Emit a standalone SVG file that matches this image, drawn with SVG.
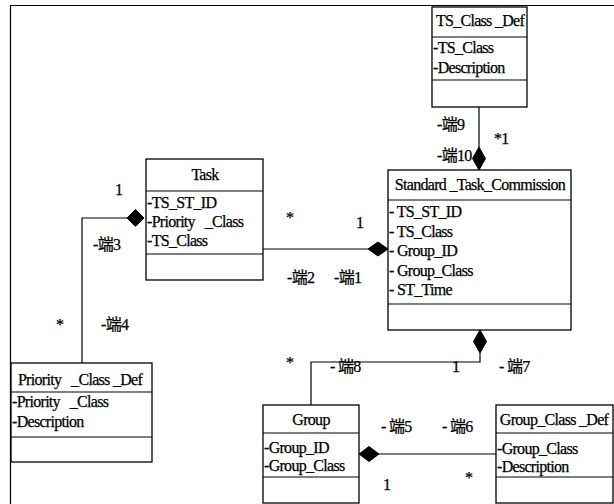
<svg xmlns="http://www.w3.org/2000/svg" width="614" height="504" viewBox="0 0 614 504" font-family="Liberation Serif, Times New Roman, DejaVu Serif, Noto Sans CJK SC, serif">
<style>
text{font-size:16px;fill:#000;letter-spacing:-0.7px;stroke:#000;stroke-width:0.25}
.h{text-anchor:middle}
.box{fill:#fff;stroke:#000;stroke-width:1.3}
.ln{stroke:#000;stroke-width:1.2;fill:none}
.dm{fill:#000;stroke:#000;stroke-width:1}
</style>
<rect width="614" height="504" fill="#fff"/>
<path class="ln" d="M10.5 504 V5.5 H614"/>

<g id="connectors">
<path class="ln" d="M479 107 V147"/>
<polygon class="dm" points="479,147 485.5,158.5 479,170 472.5,158.5"/>
<path class="ln" d="M263 249 H368"/>
<polygon class="dm" points="368,249 378,242 388,249 378,256"/>
<path class="ln" d="M82 363 V218 H127"/>
<polygon class="dm" points="127,218 135.5,209.5 144,218 135.5,226.5"/>
<path class="ln" d="M311 405 V362 H480 V353"/>
<polygon class="dm" points="480,330 486.5,341.5 480,353 473.5,341.5"/>
<path class="ln" d="M379 454 H496"/>
<polygon class="dm" points="359,454 369,446.5 379,454 369,461.5"/>
</g>

<g id="labels">
<text x="115" y="195">1</text>
<text x="93" y="250">-端3</text>
<text x="101" y="330">-端4</text>
<text x="56" y="330">*</text>
<text x="286" y="223">*</text>
<text x="356" y="228">1</text>
<text x="287" y="283">-端2</text>
<text x="334" y="283">-端1</text>
<text x="437" y="130">-端9</text>
<text x="494" y="144">*1</text>
<text x="437" y="161">-端10</text>
<text x="286" y="368">*</text>
<text x="330" y="372">- 端8</text>
<text x="452" y="372">1</text>
<text x="499" y="372">- 端7</text>
<text x="381" y="432">- 端5</text>
<text x="442" y="432">- 端6</text>
<text x="383" y="490">1</text>
<text x="465" y="483">*</text>
</g>

<g id="ts-class-def">
<rect class="box" x="432" y="7" width="95" height="100"/>
<path class="ln" d="M432 37 H527 M432 80 H527"/>
<text class="h" x="480" y="26">TS_Class _Def</text>
<text x="433" y="53">-TS_Class</text>
<text x="433" y="73">-Description</text>
</g>

<g id="task">
<rect class="box" x="146" y="159" width="117" height="121"/>
<path class="ln" d="M146 191 H263 M146 254 H263"/>
<text class="h" x="205" y="180">Task</text>
<text x="147" y="208">-TS_ST_ID</text>
<text x="147" y="227">-Priority&#160;&#160;&#160;_Class</text>
<text x="147" y="246">-TS_Class</text>
</g>

<g id="standard-task-commission">
<rect class="box" x="388" y="170" width="183" height="160"/>
<path class="ln" d="M388 200 H571 M388 304 H571"/>
<text class="h" x="480" y="190">Standard _Task_Commission</text>
<text x="389" y="217">- TS_ST_ID</text>
<text x="389" y="237">- TS_Class</text>
<text x="389" y="256">- Group_ID</text>
<text x="389" y="276">- Group_Class</text>
<text x="389" y="295">- ST_Time</text>
</g>

<g id="priority-class-def">
<rect class="box" x="11" y="363" width="141" height="99"/>
<path class="ln" d="M11 392 H152 M11 437 H152"/>
<text class="h" x="80" y="385">Priority&#160;&#160;&#160;_Class _Def</text>
<text x="12" y="407">-Priority&#160;&#160;&#160;_Class</text>
<text x="12" y="427">-Description</text>
</g>

<g id="group">
<rect class="box" x="263" y="405" width="96" height="98"/>
<path class="ln" d="M263 433 H359 M263 477 H359"/>
<text class="h" x="311" y="425">Group</text>
<text x="264" y="453">-Group_ID</text>
<text x="264" y="471">-Group_Class</text>
</g>

<g id="group-class-def">
<rect class="box" x="496" y="405" width="117" height="98"/>
<path class="ln" d="M496 433 H613 M496 477 H613"/>
<text class="h" x="554" y="425" letter-spacing="-1">Group_Class _Def</text>
<text x="497" y="454">-Group_Class</text>
<text x="497" y="472">-Description</text>
</g>
</svg>
